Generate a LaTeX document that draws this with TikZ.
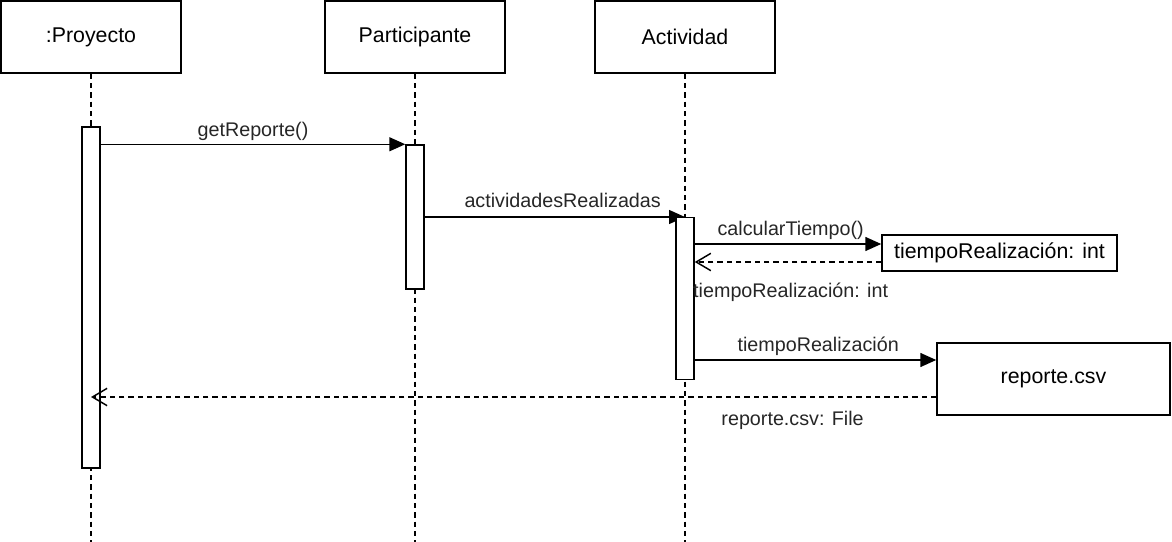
\documentclass[tikz,border=0pt]{standalone}
\usepackage{fontspec}
\setmainfont{Liberation Sans}
\usetikzlibrary{arrows.meta,positioning}

\begin{document}
\begin{tikzpicture}[x=0.75pt,y=-0.75pt,line width=1.1pt,>={Triangle[length=12pt,width=10.5pt]},
  obj node/.style={draw,fill=white,minimum width=135pt,minimum height=54pt,font=\fontsize{16}{19}\selectfont},
  act node/.style={draw,fill=white,minimum width=13.5pt,inner sep=0pt},
  ret node/.style={draw,fill=white,inner sep=0pt,font=\fontsize{16}{19}\selectfont},
  life/.style={dash pattern=on 4pt off 3pt},
  msg/.style={->},
  ret/.style={-{Straight Barb[length=11pt,width=13pt]},dash pattern=on 4pt off 3pt},
  lbl/.style={font=\fontsize{14.8}{17}\selectfont,text=black!85,inner sep=1pt,text height=11pt,text depth=3pt}]

            \useasboundingbox (0,0) rectangle (1172,542);

            \node[obj node] (proy) at (91,37) {:Proyecto};
            \node[obj node] (part) at (415,37) {Participante};
            \node[obj node] (acti) at (685,37) {Actividad};

            \coordinate (proyEnd) at (91,542);
            \coordinate (partEnd) at (415,542);
            \coordinate (actiEnd) at (685,542);
            \draw[life] (proy) -- (proyEnd);
            \draw[life] (part) -- (partEnd);
            \draw[life] (acti) -- (actiEnd);

            \node[act node,minimum height=255.75pt] (act1) at (91,297.5) {};
            \node[act node,minimum height=108pt] (act2) at (415,217) {};
            \coordinate (a3top) at (685,217);
            \draw[msg] (act2.east |- a3top) -- node[lbl,above=2.5pt,pos=0.53]{actividadesRealizadas} (a3top);
            \node[act node,minimum height=121.5pt] (act3) [below=0pt of a3top] {};

            \node[ret node,minimum width=176.25pt,minimum height=27pt] (tr) at (999.5,253) {tiempoRealización: int};
            \node[ret node,minimum width=174.75pt,minimum height=54pt] (rep) at (1053.5,379) {reporte.csv};

            \draw[msg] (act1.east |- act2.north) -- node[lbl,above=1.5pt]{getReporte()} (act2.north west);

            \coordinate (trIn) at ([yshift=6.75pt]tr.west);
            \coordinate (trOut) at ([yshift=-6.75pt]tr.west);
            \draw[msg] (act3.east |- trIn) -- node[lbl,above=2pt,xshift=2pt]{calcularTiempo()} (trIn);
            \draw[ret] (trOut) -- node[lbl,below=14pt,xshift=2pt]{tiempoRealización: int} (act3.east |- trOut);

            \coordinate (repIn) at ([yshift=14.25pt]rep.west);
            \coordinate (repOut) at ([yshift=-13.5pt]rep.west);
            \draw[msg] (act3.east |- repIn) -- node[lbl,above=1.5pt,xshift=2pt]{tiempoRealización} (repIn);
            \draw[ret] (repOut) -- node[lbl,below=8.5pt,pos=0.17]{reporte.csv: File} (proy |- repOut);

            ;
        \end{tikzpicture}
\end{document}
